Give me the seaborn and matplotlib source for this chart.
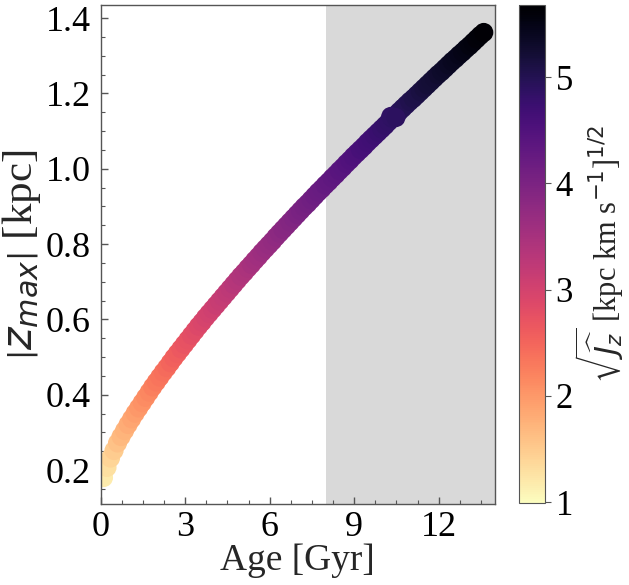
import numpy as np
import pandas as pd
import seaborn as sns
import matplotlib
matplotlib.use("Agg")
import matplotlib.pyplot as plt
from matplotlib.ticker import AutoMinorLocator
from matplotlib.colors import Normalize
from matplotlib.cm import ScalarMappable

# Stellar age [Gyr]
age = [0.100, 0.225, 0.350, 0.475, 0.600, 0.725, 0.850, 0.975, 1.100, 1.225,
       1.350, 1.475, 1.600, 1.725, 1.850, 1.975, 2.100, 2.225, 2.350, 2.475,
       2.600, 2.725, 2.850, 2.975, 3.100, 3.225, 3.350, 3.475, 3.600, 3.725,
       3.850, 3.975, 4.100, 4.225, 4.350, 4.475, 4.600, 4.725, 4.850, 4.975,
       5.100, 5.225, 5.350, 5.475, 5.600, 5.725, 5.850, 5.975, 6.100, 6.225,
       6.350, 6.475, 6.600, 6.725, 6.850, 6.975, 7.100, 7.225, 7.350, 7.475,
       7.600, 7.725, 7.850, 7.975, 8.100, 8.225, 8.350, 8.475, 8.600, 8.725,
       8.850, 8.975, 9.100, 9.225, 9.350, 9.475, 9.600, 9.725, 9.850, 9.975,
       10.100, 10.225, 10.350, 10.475, 10.600, 10.725, 10.850, 10.975, 11.100, 11.225,
       11.350, 11.475, 11.600, 11.725, 11.850, 11.975, 12.100, 12.225, 12.350, 12.475,
       12.600, 12.725, 12.850, 12.975, 13.100, 13.225, 13.350, 13.475, 13.600,
       10.300, 10.480]

# Maximum vertical excursion |z_max| [kpc]
zmax = [0.180, 0.207, 0.232, 0.252, 0.272, 0.289, 0.305, 0.321, 0.336, 0.351,
        0.365, 0.379, 0.393, 0.407, 0.421, 0.434, 0.447, 0.460, 0.472, 0.485,
        0.498, 0.510, 0.522, 0.534, 0.546, 0.558, 0.570, 0.582, 0.593, 0.605,
        0.616, 0.627, 0.638, 0.649, 0.660, 0.671, 0.682, 0.693, 0.704, 0.715,
        0.725, 0.736, 0.746, 0.757, 0.767, 0.778, 0.788, 0.798, 0.808, 0.819,
        0.829, 0.839, 0.849, 0.859, 0.869, 0.879, 0.889, 0.899, 0.908, 0.918,
        0.928, 0.938, 0.947, 0.957, 0.966, 0.976, 0.985, 0.995, 1.004, 1.014,
        1.023, 1.033, 1.042, 1.051, 1.060, 1.070, 1.079, 1.088, 1.097, 1.106,
        1.115, 1.125, 1.134, 1.143, 1.152, 1.161, 1.170, 1.179, 1.187, 1.196,
        1.205, 1.214, 1.223, 1.232, 1.241, 1.250, 1.258, 1.267, 1.276, 1.285,
        1.293, 1.302, 1.310, 1.319, 1.327, 1.336, 1.345, 1.354, 1.362,
        1.139, 1.136]

# Square root of the vertical action [kpc km/s]^(1/2)
sqrt_jz = [1.18, 1.30, 1.41, 1.50, 1.59, 1.67, 1.74, 1.81, 1.88, 1.94,
           2.00, 2.06, 2.12, 2.18, 2.24, 2.30, 2.35, 2.40, 2.45, 2.50,
           2.55, 2.60, 2.65, 2.70, 2.74, 2.79, 2.83, 2.88, 2.92, 2.97,
           3.01, 3.06, 3.10, 3.14, 3.18, 3.22, 3.26, 3.31, 3.35, 3.39,
           3.42, 3.46, 3.50, 3.54, 3.58, 3.62, 3.66, 3.70, 3.73, 3.77,
           3.81, 3.85, 3.88, 3.92, 3.95, 3.99, 4.02, 4.06, 4.09, 4.13,
           4.16, 4.20, 4.23, 4.27, 4.30, 4.33, 4.36, 4.40, 4.43, 4.47,
           4.50, 4.53, 4.56, 4.60, 4.63, 4.66, 4.69, 4.72, 4.75, 4.79,
           4.82, 4.85, 4.88, 4.91, 4.94, 4.97, 5.00, 5.03, 5.06, 5.09,
           5.12, 5.16, 5.19, 5.22, 5.24, 5.27, 5.30, 5.33, 5.36, 5.39,
           5.42, 5.45, 5.48, 5.51, 5.54, 5.57, 5.59, 5.62, 5.65,
           4.87, 4.91]

x_ticks = [0, 3, 6, 9, 12]
y_ticks = [0.2, 0.4, 0.6, 0.8, 1.0, 1.2, 1.4]
cbar_ticks = [1, 2, 3, 4, 5]

df = pd.DataFrame({"age": age, "zmax": zmax, "sqrt_jz": sqrt_jz})

sns.set_style("ticks")
plt.rcParams["font.family"] = ["Liberation Serif", "DejaVu Serif"]
plt.rcParams["mathtext.fontset"] = "dejavusans"

fig = plt.figure(figsize=(6.29, 5.85), dpi=100)
ax = fig.add_axes([0.160, 0.1385, 0.627, 0.853])
cax = fig.add_axes([0.8256, 0.1397, 0.0413, 0.8518])

norm = Normalize(vmin=0.99, vmax=5.68)
cmap = "magma_r"

# old-population age range
ax.axvspan(8, 14, color="#d9d9d9", zorder=0, lw=0)

sns.scatterplot(data=df, x="age", y="zmax", hue="sqrt_jz", palette=cmap,
                hue_norm=norm, s=190, linewidth=0, legend=False, ax=ax,
                zorder=2)

ax.set_xlim(0, 14)
ax.set_ylim(0.11, 1.435)
ax.set_xticks(x_ticks)
ax.set_yticks(y_ticks)
ax.set_yticklabels([f"{v:.1f}" for v in y_ticks])
ax.xaxis.set_minor_locator(AutoMinorLocator(4))
ax.yaxis.set_minor_locator(AutoMinorLocator(4))
ax.tick_params(which="both", direction="in", colors="#555555",
               labelcolor="black", labelsize=26)
ax.tick_params(which="major", length=5, width=1)
ax.tick_params(which="minor", length=3, width=0.8)
ax.tick_params(axis="y", pad=7)
ax.tick_params(axis="x", pad=5)
for sp in ax.spines.values():
    sp.set_color("#555555")
    sp.set_linewidth(1.0)

ax.set_xlabel("Age [Gyr]", fontsize=27, labelpad=0)
ax.set_ylabel(r"$\left|z_{max}\right|$ [kpc]", fontsize=31, labelpad=2)

sm = ScalarMappable(norm=norm, cmap=cmap)
cb = fig.colorbar(sm, cax=cax, ticks=cbar_ticks)
cb.outline.set_edgecolor("#555555")
cb.ax.tick_params(labelsize=25, length=4, colors="#555555", labelcolor="black")
cb.set_label(r"$\sqrt{\widehat{J_z}}$ [kpc km s$^{-1}$]$^{1/2}$",
             fontsize=22, labelpad=0)

fig.savefig("out.png", dpi=100)
